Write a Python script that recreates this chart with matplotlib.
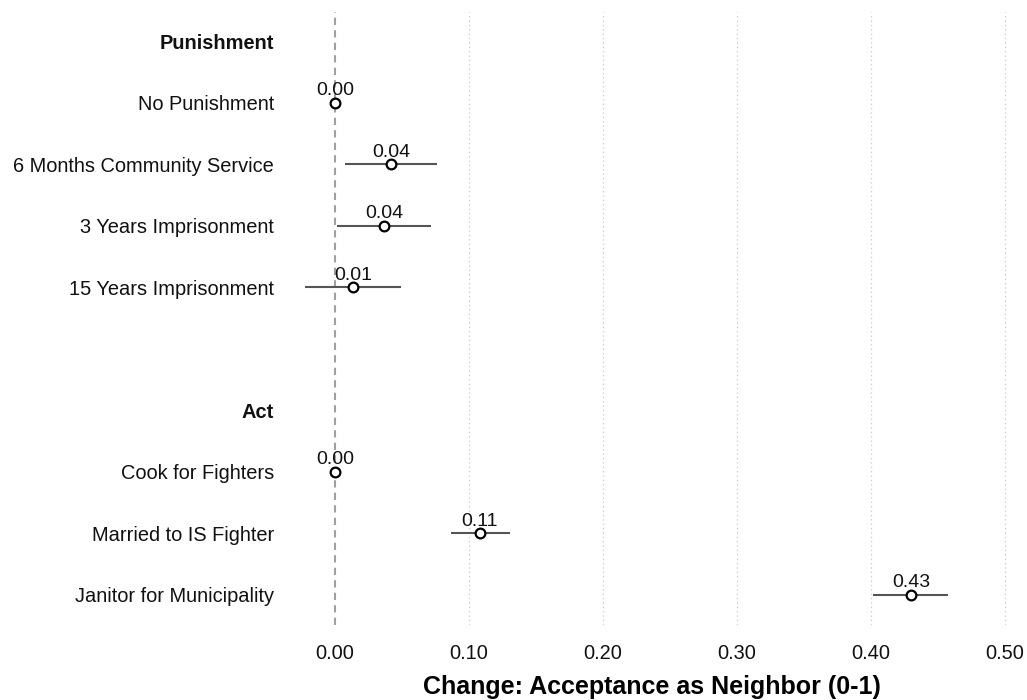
import matplotlib.pyplot as plt
import numpy as np

plt.rcParams['font.family'] = ['Liberation Sans', 'DejaVu Sans']

# ===================== 数据 =====================
row_labels = ["Punishment", "No Punishment", "6 Months Community Service",
              "3 Years Imprisonment", "15 Years Imprisonment", "",
              "Act", "Cook for Fighters", "Married to IS Fighter",
              "Janitor for Municipality"]
header_rows = ["Punishment", "Act"]

# 估计值与置信区间（None 表示该行没有点）
estimates = [None, 0.0, 0.0418, 0.0366, 0.0134, None,
             None, 0.0, 0.108, 0.430]
ci_low = [None, None, 0.0075, 0.0015, -0.022, None,
          None, None, 0.087, 0.402]
ci_high = [None, None, 0.076, 0.072, 0.049, None,
           None, None, 0.131, 0.458]

x_ticks = [0.0, 0.1, 0.2, 0.3, 0.4, 0.5]
x_label = "Change: Acceptance as Neighbor (0-1)"

# ===================== 绘图 =====================
fig = plt.figure(figsize=(10.27, 7), dpi=100)
ax = fig.add_axes([0.287, 0.107, 0.696, 0.876])

ypos = np.arange(len(row_labels))

# 网格线（虚点）和零参考线
for xt in x_ticks[1:]:
    ax.axvline(xt, color='#c8c8c8', lw=0.9, ls=(0, (1, 2.5)), zorder=0)
ax.axvline(0, color='#a0a0a0', lw=1.5, ls=(0, (3.5, 2.5)), zorder=1)

for y, est, lo, hi in zip(ypos, estimates, ci_low, ci_high):
    if est is None:
        continue
    if lo is not None:
        ax.plot([lo, hi], [y, y], color='#555555', lw=1.5, zorder=2,
                solid_capstyle='butt')
    ax.plot(est, y, 'o', mfc='white', mec='black', mew=1.6, ms=7, zorder=3)
    ax.annotate(f"{est:.2f}", (est, y), xytext=(0, 2.5), textcoords='offset points',
                ha='center', va='bottom', fontsize=14, color='#111111')

ax.set_xlim(-0.03, 0.5037)
ax.set_ylim(9.49, -0.48)
ax.set_xticks(x_ticks)
ax.set_xticklabels([f"{v:.2f}" for v in x_ticks], fontsize=14.4)
ax.set_yticks(ypos)
ax.set_yticklabels(row_labels, fontsize=14.4)
for lab in ax.get_yticklabels():
    if lab.get_text() in header_rows:
        lab.set_fontweight('bold')

ax.tick_params(axis='both', length=0, colors='#111111')
ax.tick_params(axis='y', pad=15)
ax.tick_params(axis='x', pad=13.5)
for sp in ax.spines.values():
    sp.set_visible(False)

ax.set_xlabel(x_label, fontsize=18, fontweight='bold', labelpad=8.5)

fig.savefig("out.png", dpi=100)
